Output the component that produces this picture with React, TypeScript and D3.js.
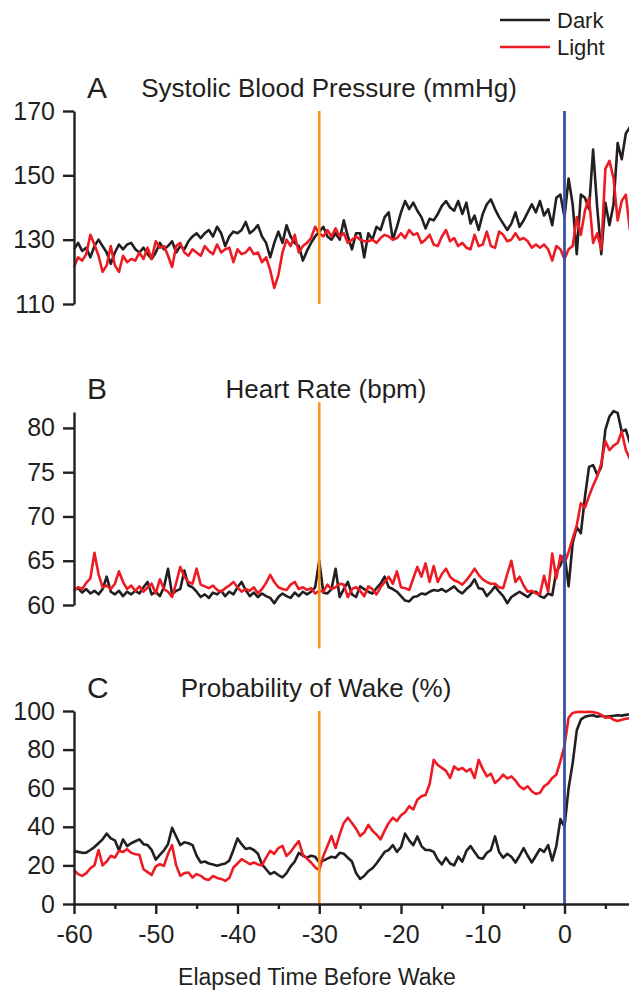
import * as React from "react";
import * as d3 from "d3";

// sample times (minutes before wake), one every 30 s
const minutes = d3.range(-60, 8.01, 0.5);

// A: systolic blood pressure (mmHg)
const sbpDark = [
    127, 129, 126.5, 127.5, 124.5, 128, 130, 128, 126, 122.5,
    126, 128.5, 127, 128.5, 129, 127, 126, 127.5, 125.5, 124,
    126, 129, 127, 128, 129.5, 126, 128, 127, 129.5, 131,
    132, 130.5, 132, 133, 131, 134, 132, 128, 131, 132.5,
    132, 133, 135.5, 132, 133, 134.5, 131, 129, 124.5, 129,
    132.5, 129, 134.5, 131, 129, 128, 123.5, 126.5, 129, 131,
    132.5, 134, 131, 130, 132, 130, 136, 131, 127, 132,
    132, 124.5, 132, 130, 134, 133, 137, 138.5, 130, 134,
    138.5, 142, 139.5, 141.5, 139, 137, 133.5, 136.5, 136, 138,
    140.5, 142, 140, 139, 142, 138, 141.5, 135, 137.5, 133,
    138, 141, 142.5, 139.5, 137, 135, 133, 135, 138.5, 134,
    136, 138.5, 141, 138.5, 142, 137.5, 139.5, 134.5, 143, 144,
    137, 149, 141, 125.5, 144, 143, 139.5, 158, 140, 125.5,
    141.5, 134.5, 141, 160, 155, 163, 165
];
const sbpLight = [
    121.5, 124.5, 123.5, 125.5, 131.5, 128.5, 125, 120, 122, 128,
    122, 120, 125, 123, 124, 123.5, 126, 124, 127.5, 124,
    129.5, 127.5, 128, 125, 121.5, 128, 129, 126, 125, 127,
    126, 125, 128, 126.5, 125.5, 128.5, 126, 127, 127.5, 123,
    127, 125.5, 126, 127.5, 125.5, 126, 123, 124.5, 120.5, 115,
    119, 126, 130, 128, 131.5, 126, 128, 129, 130.5, 134,
    132, 131, 133, 131, 133.5, 131, 132, 129, 130, 131,
    130, 129.5, 129.5, 130, 129, 130.5, 131.5, 131, 130, 130.5,
    132, 130.5, 133, 131.5, 132, 129, 130, 131.5, 128.5, 128,
    131, 133, 129.5, 130.5, 128, 129, 127.5, 127, 131.5, 128,
    128.5, 132.5, 128, 127.5, 132.5, 131.5, 129.5, 130, 132, 130,
    130.5, 129.5, 127.5, 128.5, 127.5, 128.5, 127, 123.5, 128, 127,
    124, 127, 128, 137, 131.5, 139, 143, 129, 132, 127,
    152, 154.5, 149, 136, 142, 144, 133
];

// B: heart rate (bpm)
const hrDark = [
    61.7, 61.9, 61.4, 61.8, 61.3, 61.6, 61.2, 61.8, 63.2, 61.5,
    61.2, 61.6, 61.0, 61.5, 61.2, 61.6, 61.3, 62.0, 62.6, 61.2,
    61.5, 61.0, 62.0, 64.1, 61.2, 61.6, 61.8, 63.9, 62.2, 62.0,
    61.5, 60.9, 61.2, 60.8, 61.4, 61.2, 61.6, 61.0, 61.5, 61.2,
    62.0, 62.6, 61.7, 61.0, 61.4, 60.9, 61.3, 61.0, 60.8, 60.2,
    60.9, 61.3, 61.0, 60.8, 61.4, 61.0, 61.5, 61.2, 61.5, 62.0,
    65.0, 61.4, 61.3, 61.8, 64.1, 60.9, 61.8, 62.6, 61.2, 60.9,
    62.1, 61.8, 61.5, 61.3, 61.9, 62.4, 63.2, 62.0, 61.8, 61.5,
    61.0, 60.5, 60.4, 60.9, 61.0, 61.3, 61.2, 61.5, 61.7, 61.6,
    61.8, 61.5, 61.8, 62.1, 61.6, 61.3, 61.8, 62.2, 62.9, 61.9,
    61.8, 61.0, 61.5, 62.1, 61.5, 61.0, 60.2, 60.9, 61.2, 61.5,
    61.2, 60.9, 61.4, 61.5, 61.0, 60.8, 61.3, 61.1, 63.8, 64.5,
    65.8, 62.1, 67.0, 68.8, 68.1, 72.2, 75.6, 75.8, 74.7, 75.6,
    79.8, 81.3, 81.9, 81.7, 79.6, 79.8, 78.3
];
const hrLight = [
    61.6, 62.0, 61.8, 62.5, 63.0, 65.9, 63.5, 62.0, 62.2, 61.8,
    62.4, 63.8, 62.6, 61.8, 62.2, 61.6, 62.1, 61.5, 62.0, 62.4,
    61.3, 62.9, 61.8, 61.5, 60.9, 62.5, 64.3, 63.2, 62.6, 62.4,
    64.1, 62.3, 62.1, 61.9, 62.2, 61.7, 61.5, 61.9, 62.2, 62.6,
    62.0, 61.5, 61.8, 61.6, 62.0, 61.3, 61.8, 62.5, 63.4, 62.6,
    62.0, 61.8, 61.7, 62.3, 62.6, 61.8, 62.0, 61.7, 61.9, 61.3,
    61.6, 61.5, 62.3, 61.8, 62.0, 62.4, 62.3, 60.9, 61.8, 62.0,
    61.6, 61.0, 62.1, 61.8, 61.2, 62.0, 62.6, 63.2, 62.4, 63.8,
    62.0, 61.9, 61.7, 63.0, 64.3, 63.2, 64.7, 62.6, 64.4, 62.6,
    63.5, 64.1, 63.2, 62.8, 62.6, 62.3, 62.8, 63.4, 64.1, 63.4,
    62.9, 62.6, 62.4, 62.4, 62.0, 61.9, 63.5, 65.0, 62.6, 63.2,
    62.2, 61.5, 61.6, 61.3, 61.2, 63.3, 61.5, 65.8, 63.0, 65.6,
    64.7, 66.0, 67.5, 69.0, 71.5, 71.0, 72.3, 73.5, 74.5, 76.0,
    78.5, 77.5, 78.0, 78.3, 79.6, 77.5, 76.5
];

// C: probability of wake (%)
const wakeDark = [
    27.4, 27.0, 26.5, 26.6, 28.0, 29.5, 31.5, 33.5, 36.5, 34.0,
    33.0, 27.8, 33.5, 30.0, 31.5, 32.5, 33.5, 31.0, 30.5, 28.0,
    23.0, 25.5, 27.8, 31.0, 39.5, 35.0, 30.5, 32.0, 31.5, 30.5,
    25.0, 21.5, 22.0, 21.0, 20.5, 19.8, 20.5, 21.0, 22.5, 28.0,
    34.0, 31.0, 28.5, 29.0, 28.0, 26.0, 20.5, 18.0, 15.5, 16.5,
    15.0, 13.8, 16.0, 19.5, 22.0, 26.5, 25.0, 24.0, 25.0, 24.5,
    21.5, 22.5, 23.5, 24.5, 24.0, 26.5, 26.0, 24.0, 22.0, 16.0,
    13.0, 14.5, 17.0, 18.5, 21.0, 24.0, 27.0, 28.0, 30.5, 27.0,
    29.5, 36.5, 33.0, 30.5, 35.0, 30.0, 28.0, 28.0, 27.0, 23.0,
    20.5, 24.0, 21.0, 20.0, 24.5, 22.0, 27.5, 30.0, 27.0, 24.0,
    23.5, 26.5, 28.0, 35.0, 27.0, 24.0, 26.0, 24.5, 21.5, 25.0,
    29.0, 25.0, 21.5, 25.0, 28.5, 27.0, 30.5, 22.5, 30.0, 44.0,
    40.0, 60.0, 73.0, 90.0, 95.5, 97.0, 97.5, 97.8, 97.0, 97.5,
    97.0, 97.3, 97.5, 97.8, 97.6, 98.0, 98.2
];
const wakeLight = [
    17.5, 15.5, 14.6, 16.0, 18.5, 20.0, 28.0, 20.0, 22.0, 25.0,
    24.0, 27.5, 27.0, 28.4, 26.5, 25.8, 25.5, 18.0, 16.5, 15.0,
    19.5, 20.6, 19.8, 26.0, 30.5, 20.0, 14.6, 16.0, 16.3, 13.7,
    15.5, 14.6, 13.0, 12.5, 14.5, 13.5, 13.0, 12.0, 13.5, 18.9,
    21.0, 23.2, 22.0, 20.6, 21.5, 20.5, 20.0, 24.0, 27.5, 26.0,
    29.0, 30.1, 24.9, 27.0, 30.0, 32.6, 25.5, 23.5, 21.5, 19.0,
    17.5, 24.9, 30.0, 35.2, 29.0, 36.0, 42.0, 44.7, 42.0, 39.0,
    35.2, 37.0, 41.0, 38.0, 36.0, 33.5, 38.0, 42.0, 44.7, 43.0,
    46.0, 47.5, 50.7, 49.0, 54.0, 55.8, 56.5, 62.0, 74.7, 72.0,
    70.5, 69.0, 65.3, 71.3, 69.5, 70.5, 68.7, 70.0, 65.3, 74.7,
    70.0, 66.1, 67.5, 62.7, 64.5, 67.0, 65.0, 66.1, 64.0, 61.0,
    59.5, 61.0, 58.4, 57.0, 57.6, 61.0, 62.5, 65.3, 67.0, 74.0,
    82.0, 96.5, 99.0, 99.5, 99.6, 99.5, 99.6, 99.4, 99.0, 98.0,
    96.5, 96.8, 95.5, 94.8, 95.5, 96.0, 96.2
];

const sbpTicks = [110, 130, 150, 170];
const hrTicks = [60, 65, 70, 75, 80];
const wakeTicks = [0, 20, 40, 60, 80, 100];
const majorMinuteTicks = [-60, -50, -40, -30, -20, -10, 0];
const minorMinuteTicks = [-55, -45, -35, -25, -15, -5, 5];

const sleepOnset = -30;   // orange marker
const wakeTime = 0;       // blue marker

const seriesNames = ["Dark", "Light"];


class App extends React.Component {

    componentDidMount() {
        this.drawChart();
    }

    drawChart() {
        let options = {
            width: 629,
            height: 995,
            left: 74,
            right: 629.9,
            panelHeight: 193,
            panelTops: [111, 412, 711],
            font: "'Liberation Sans', Arial, Helvetica, sans-serif",
            ink: "#231f20",
            colors: ["#231f20", "#ed1c24"],
            orange: "#f7931e",
            blue: "#3953a4",
            lineWidth: 2.6
        };

        const panels = [
            {letter: "A", title: "Systolic Blood Pressure (mmHg)", titleX: 329, domain: [110, 170],
                ticks: sbpTicks, series: [sbpDark, sbpLight], marker: [110, 170]},
            {letter: "B", title: "Heart Rate (bpm)", titleX: 326, domain: [60, 81.8],
                ticks: hrTicks, series: [hrDark, hrLight], marker: [55.1, 82.9]},
            {letter: "C", title: "Probability of Wake (%)", titleX: 316, domain: [0, 100],
                ticks: wakeTicks, series: [wakeDark, wakeLight], marker: [0, 100]}
        ];

        // plain hyphen for negatives, like the original figure
        const plain = d => String(d);

        let x = d3.scaleLinear().domain([-60, 8]).range([options.left, options.right]);

        let svg = d3.select(this._rootNode)
            .append("svg")
            .attr("width", options.width)
            .attr("height", options.height)
            .style("position", "absolute")
            .style("left", 0)
            .style("top", 0)
            .style("font-family", options.font);

        let yScales = panels.map((p, i) => d3.scaleLinear()
            .domain(p.domain)
            .range([options.panelTops[i] + options.panelHeight, options.panelTops[i]]));

        panels.forEach((p, i) => {
            let y = yScales[i];
            let g = svg.append("g");

            let line = d3.line()
                .x((d, k) => x(minutes[k]))
                .y(d => y(d));

            g.selectAll("path.line")
                .data(p.series)
                .enter()
                .append("path")
                .classed("line", true)
                .attr("d", line)
                .style("fill", "none")
                .style("stroke", (d, k) => options.colors[k])
                .style("stroke-width", options.lineWidth)
                .style("stroke-linejoin", "round");

            // orange marker at -30 min
            g.append("line")
                .attr("x1", x(sleepOnset)).attr("x2", x(sleepOnset))
                .attr("y1", y(p.marker[0])).attr("y2", y(p.marker[1]))
                .style("stroke", options.orange)
                .style("stroke-width", 2.6);

            let yAxis = g.append("g")
                .attr("transform", "translate(" + options.left + ",0)")
                .call(d3.axisLeft(y).tickValues(p.ticks).tickFormat(plain)
                    .tickSize(11).tickSizeOuter(0).tickPadding(8));
            yAxis.select(".domain").style("stroke", options.ink).style("stroke-width", 2.4);
            yAxis.selectAll(".tick line").style("stroke", options.ink).style("stroke-width", 2.4);
            yAxis.selectAll(".tick text")
                .style("font-size", "25px")
                .style("font-family", options.font)
                .style("fill", options.ink);

            g.append("text")
                .text(p.letter)
                .attr("x", 87)
                .attr("y", options.panelTops[i] - 13)
                .style("font-size", "30px")
                .style("fill", options.ink);

            g.append("text")
                .text(p.title)
                .attr("x", p.titleX)
                .attr("y", options.panelTops[i] - 14)
                .attr("text-anchor", "middle")
                .style("font-size", "26px")
                .style("fill", options.ink);
        });

        // blue wake marker through all panels
        svg.append("line")
            .attr("x1", x(wakeTime)).attr("x2", x(wakeTime))
            .attr("y1", yScales[0](170)).attr("y2", yScales[2](0))
            .style("stroke", options.blue)
            .style("stroke-width", 2.8);

        let axisY = yScales[2](0);
        let xAxis = svg.append("g")
            .attr("transform", "translate(0," + axisY + ")")
            .call(d3.axisBottom(x).tickValues(majorMinuteTicks).tickFormat(plain)
                .tickSize(10).tickSizeOuter(0).tickPadding(11));
        xAxis.select(".domain").style("stroke", options.ink).style("stroke-width", 2.4);
        xAxis.selectAll(".tick line").style("stroke", options.ink).style("stroke-width", 2.4);
        xAxis.selectAll(".tick text")
            .style("font-size", "25px")
            .style("font-family", options.font)
            .style("fill", options.ink);

        let minorAxis = svg.append("g")
            .attr("transform", "translate(0," + axisY + ")")
            .call(d3.axisBottom(x).tickValues(minorMinuteTicks).tickSize(5).tickFormat(() => ""));
        minorAxis.select(".domain").remove();
        minorAxis.selectAll(".tick line").style("stroke", options.ink).style("stroke-width", 2.4);

        svg.append("text")
            .text("Elapsed Time Before Wake")
            .attr("x", 317)
            .attr("y", 985)
            .attr("text-anchor", "middle")
            .style("font-size", "23px")
            .style("fill", options.ink);

        // legend
        let legend = svg.append("g").attr("transform", "translate(500,20)");
        legend.selectAll(".legendLine")
            .data(seriesNames)
            .enter()
            .append("line")
            .classed("legendLine", true)
            .attr("x1", 0).attr("x2", 50)
            .attr("y1", (d, i) => i * 27).attr("y2", (d, i) => i * 27)
            .style("stroke", (d, i) => options.colors[i])
            .style("stroke-width", 2.6);
        legend.selectAll(".legendLabel")
            .data(seriesNames)
            .enter()
            .append("text")
            .classed("legendLabel", true)
            .attr("x", 57)
            .attr("y", (d, i) => i * 27 + 8)
            .text(d => d)
            .style("font-size", "22px")
            .style("fill", options.ink);
    }

    shouldComponentUpdate() {
        return false;
    }

    _setRef(componentNode) {
        this._rootNode = componentNode;
    }

    render() {
        return <div ref={this._setRef.bind(this)}/>
    }
}

export default App;
